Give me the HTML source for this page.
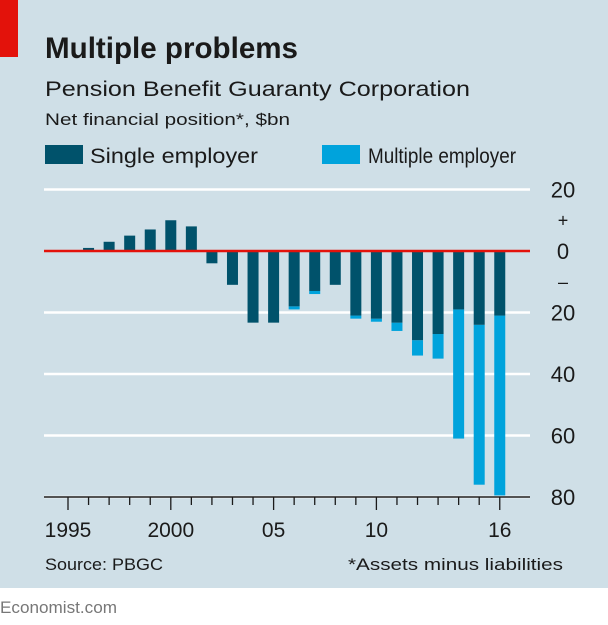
<!DOCTYPE html>
<html><head><meta charset="utf-8"><style>
body{margin:0;background:#fff;}
svg{display:block;font-family:"Liberation Sans",sans-serif;}
</style></head><body>
<svg width="608" height="625" viewBox="0 0 608 625">
<rect x="0" y="0" width="608" height="588" fill="#cfdfe7"/>
<rect x="0" y="0" width="18" height="57" fill="#e3120b"/>
<text x="45" y="58" font-size="30" font-weight="bold" fill="#1a1a1a" textLength="253" lengthAdjust="spacingAndGlyphs">Multiple problems</text>
<text x="45" y="96" font-size="21" fill="#1a1a1a" textLength="425" lengthAdjust="spacingAndGlyphs">Pension Benefit Guaranty Corporation</text>
<text x="45" y="125" font-size="17" fill="#1a1a1a" textLength="245" lengthAdjust="spacingAndGlyphs">Net financial position*, $bn</text>
<g>
<rect x="45" y="145" width="38" height="19" fill="#00526b"/>
<text x="90" y="163" font-size="21" fill="#1a1a1a" textLength="168" lengthAdjust="spacingAndGlyphs">Single employer</text>
<rect x="322" y="145" width="38" height="19" fill="#00a3dc"/>
<text x="368" y="163" font-size="21" fill="#1a1a1a" textLength="148" lengthAdjust="spacingAndGlyphs">Multiple employer</text>
</g>
<g id="plot"></g>
<text x="45" y="570" font-size="17" fill="#1a1a1a" textLength="118" lengthAdjust="spacingAndGlyphs">Source: PBGC</text>
<text x="563" y="570" font-size="17" fill="#1a1a1a" text-anchor="end" textLength="215" lengthAdjust="spacingAndGlyphs">*Assets minus liabilities</text>
<text x="0" y="613" font-size="17" fill="#777" textLength="117" lengthAdjust="spacingAndGlyphs">Economist.com</text>
</svg>
<script>
const years = [1995,1996,1997,1998,1999,2000,2001,2002,2003,2004,2005,2006,2007,2008,2009,2010,2011,2012,2013,2014,2015,2016];
const singleEmployer = [0,1,3,5,7,10,8,-4,-11,-23.3,-23.3,-18,-13,-11,-21,-22,-23.3,-29,-27,-19,-24,-21];
const totalPosition = [0,1,3,5,7,10,8,-4,-11,-23.3,-23.3,-19,-14,-11,-22,-23,-26,-34,-35,-61,-76,-79.5];
const yTicks = [20,0,-20,-40,-60,-80];
const yTickLabels = ["20","0","20","40","60","80"];
const xTickYears = [1995,2000,2005,2010,2016];
const xTickLabels = ["1995","2000","05","10","16"];

const NS = "http://www.w3.org/2000/svg";
const plot = document.getElementById('plot');
const y = v => 251 - v * 3.075;
const x = yr => 68 + (yr - 1995) * 20.56;
function mk(tag, attrs){const e=document.createElementNS(NS,tag);for(const k in attrs)e.setAttribute(k,attrs[k]);plot.appendChild(e);return e;}

yTicks.forEach((t,i)=>{
  if(t!==0){
    const g=mk('line',{x1:44,x2:530,y1:y(t),y2:y(t),stroke:'#fff','stroke-width':2.5});
    
    
  }
  const lb=mk('text',{x:563,y:y(t)+8,'font-size':22,fill:'#1a1a1a','text-anchor':'middle'});
  lb.textContent=yTickLabels[i];
  
  
});
const plus=mk('text',{x:563,y:y(10)+6,'font-size':18,fill:'#1a1a1a','text-anchor':'middle'});plus.textContent='+';


const minus=mk('text',{x:563,y:y(-10)+6,'font-size':18,fill:'#1a1a1a','text-anchor':'middle'});minus.textContent='–';



years.forEach((yr,i)=>{
  const cx=x(yr), w=11;
  const tot=totalPosition[i], s=singleEmployer[i];
  if(tot<s){
    const m=mk('rect',{x:cx-w/2,y:y(s),width:w,height:y(tot)-y(s),fill:'#00a3dc'});
    
    
  }
  if(s!==0){
    const r=mk('rect',{x:cx-w/2,y:Math.min(y(0),y(s)),width:w,height:Math.abs(y(s)-y(0)),fill:'#00526b'});
    
    
  }
  const major=xTickYears.includes(yr);
  const tk=mk('line',{x1:cx,x2:cx,y1:497,y2:major?510:505,stroke:'#1a1a1a','stroke-width':1.3});
  
  
});
const zero=mk('line',{x1:44,x2:530,y1:y(0),y2:y(0),stroke:'#e3120b','stroke-width':2.5});


const axis=mk('line',{x1:44,x2:530,y1:497,y2:497,stroke:'#1a1a1a','stroke-width':1.5});


xTickYears.forEach((yr,i)=>{
  const t=mk('text',{x:x(yr),y:537,'font-size':21,fill:'#1a1a1a','text-anchor':'middle'});
  t.textContent=xTickLabels[i];
  
  
});
</script>
</body></html>
